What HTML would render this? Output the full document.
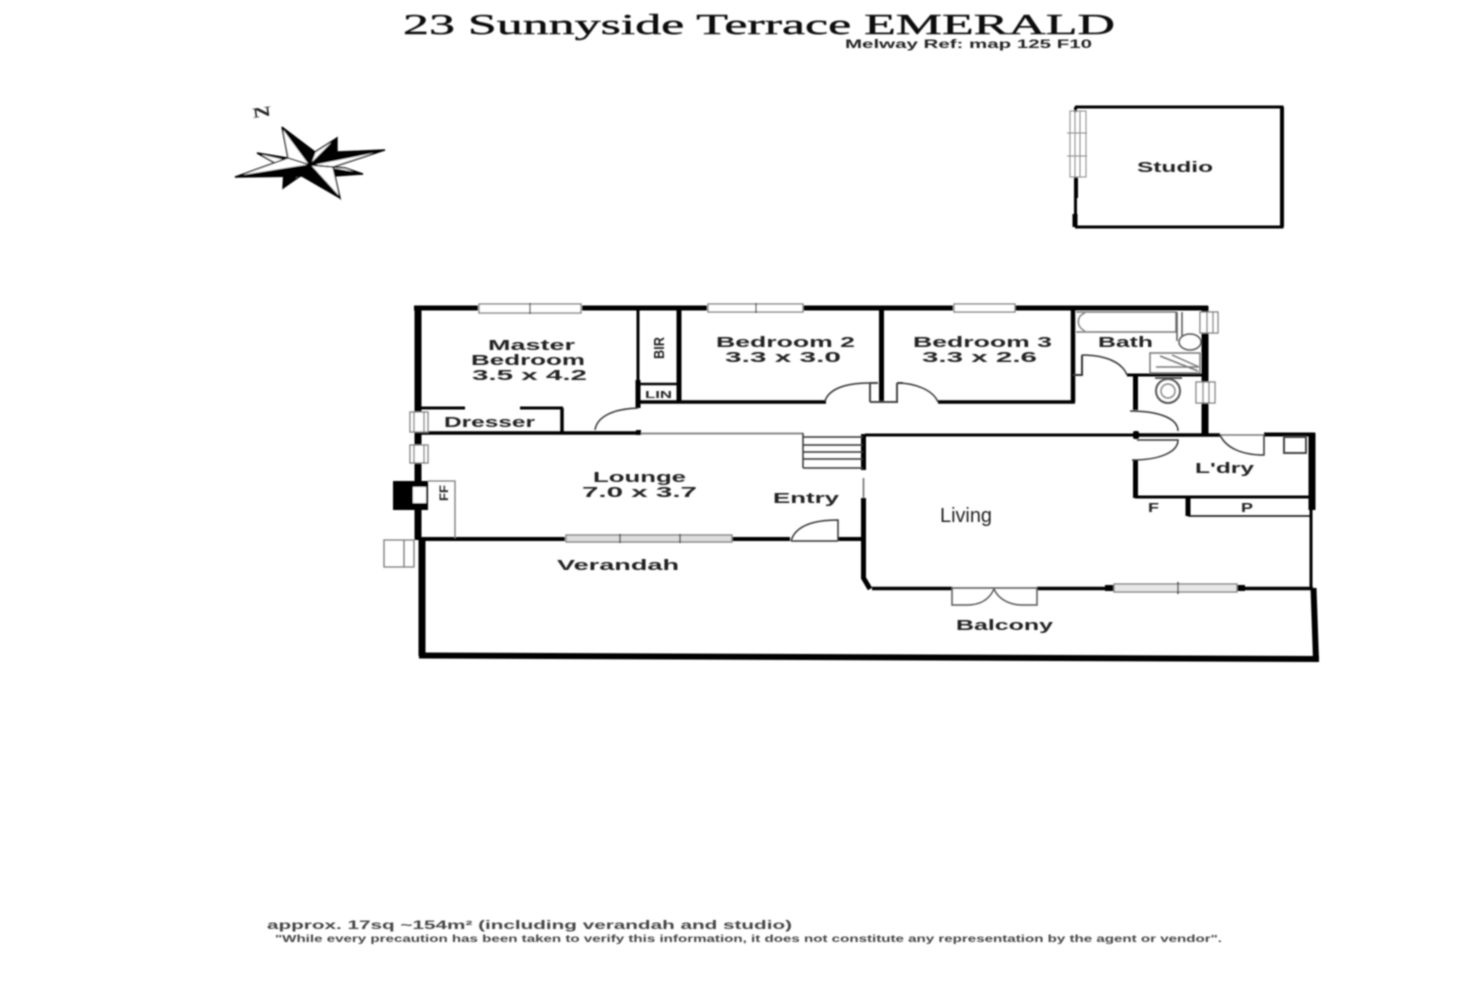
<!DOCTYPE html>
<html><head><meta charset="utf-8"><style>
html,body{margin:0;padding:0;background:#fff}
svg{display:block}
text{font-family:"Liberation Sans",sans-serif;fill:#222;font-size:15px;font-weight:bold}
</style></head><body>
<svg width="1472" height="981" viewBox="0 0 1472 981" xmlns="http://www.w3.org/2000/svg">
<defs><filter id="b" x="-2%" y="-2%" width="104%" height="104%"><feGaussianBlur stdDeviation="0.75"/></filter></defs>
<rect width="1472" height="981" fill="#fff"/>
<g filter="url(#b)">
<!-- title -->
<text x="403" y="34" textLength="712" lengthAdjust="spacingAndGlyphs" style="font-family:'Liberation Serif',serif;font-size:29px;font-weight:normal;fill:#111;stroke:#111;stroke-width:.4">23 Sunnyside Terrace EMERALD</text>
<text x="845" y="48" textLength="247" lengthAdjust="spacingAndGlyphs" style="font-size:12px">Melway Ref: map 125 F10</text>
<text transform="translate(253,118) rotate(-8)" textLength="19" lengthAdjust="spacingAndGlyphs" style="font-size:14px;font-family:'Liberation Serif',serif">N</text>
<!-- compass -->
<g stroke="#000" stroke-width="1.4" stroke-linejoin="miter">
<polygon points="315,152 337,138 310,165" fill="#fff"/>
<polygon points="337,138 337,152 310,165" fill="#000"/>
<polygon points="257,153 288,158 310,165" fill="#000"/>
<polygon points="257,153 275,163 310,165" fill="#fff"/>
<polygon points="363,174 345,168 310,165" fill="#fff"/>
<polygon points="363,174 333,176 310,165" fill="#000"/>
<polygon points="283,188 306,172 310,165" fill="#fff"/>
<polygon points="283,188 284,170 310,165" fill="#000"/>
<polygon points="282,127 288,158 310,165" fill="#fff"/>
<polygon points="282,127 315,152 310,165" fill="#000"/>
<polygon points="385,150 337,152 310,165" fill="#000"/>
<polygon points="385,150 333,167 310,165" fill="#fff"/>
<polygon points="340,198 333,167 310,165" fill="#fff"/>
<polygon points="340,198 302,176 310,165" fill="#000"/>
<polygon points="235,177 288,158 310,165" fill="#fff"/>
<polygon points="235,177 302,176 310,165" fill="#000"/>
</g>
<!-- studio -->
<g fill="none" stroke="#000">
<path d="M1075,107H1282V227H1075" stroke-width="3"/>
<path d="M1282,107V227" stroke-width="4"/>
<path d="M1075.500,107V112M1075.500,177V227" stroke-width="3"/>
<path d="M1076,177V198" stroke-width="4"/>
<path d="M1075,214V227" stroke-width="5"/>
<path d="M1070,111H1086V177H1070ZM1075,111V177M1080,111V177M1067,133H1087M1067,156H1087" stroke="#888" stroke-width="1"/>
</g>
<text x="1137" y="172" textLength="76" lengthAdjust="spacingAndGlyphs">Studio</text>

<!-- thick walls -->
<g fill="none" stroke="#000" stroke-linecap="butt">
<path d="M414,308H478M582,308H707M803,308H953M1015,308H1208" stroke-width="5"/>
<path d="M418,306V412M418,432V445M418,463V540" stroke-width="7"/>
<path d="M422,538V656" stroke-width="7"/>
<path d="M419,655.500L1319,659" stroke-width="6"/>
<path d="M1313.500,588L1316,660" stroke-width="6"/>
<path d="M419,539H565M732,539H790M838,539H865" stroke-width="4"/>
<path d="M418,433H640" stroke-width="3.500"/>
<path d="M640,433.500H803" stroke="#888" stroke-width="2"/>
<path d="M420,408H465M520,408H563" stroke-width="3"/>
<path d="M562,408V433" stroke-width="3.500"/>
<path d="M638,308V380" stroke-width="3"/>
<path d="M638,380V408" stroke-width="5"/>
<path d="M638,384H679" stroke-width="2.500"/>
<path d="M679,308V402" stroke-width="5"/>
<path d="M638,402H826" stroke-width="3.500"/>
<path d="M881.500,308V402" stroke-width="5"/>
<path d="M870,402V383M870,383H878M870,402H897V383M897,383H903" stroke="#444" stroke-width="2"/>
<path d="M938,402H1075" stroke-width="3.500"/>
<path d="M1073,308V402" stroke-width="4.500"/>
<path d="M1073,375H1082V355" stroke="#333" stroke-width="2"/>
<path d="M1127,375H1207" stroke-width="3"/>
<path d="M1135.500,376V410" stroke-width="5"/>
<path d="M1205,306V312M1205,333V382M1205,403V434" stroke-width="7"/>
<path d="M865,435H1135" stroke-width="3"/>
<path d="M1135,435H1220" stroke-width="3.500"/>
<path d="M1220,435H1264" stroke="#777" stroke-width="1.500"/>
<path d="M1264,434.500H1315" stroke-width="4"/>
<path d="M1312,433V510" stroke-width="7"/>
<path d="M1311,510V590" stroke-width="3"/>
<path d="M1135.500,460V498" stroke-width="5"/>
<path d="M1135,497H1312" stroke-width="3"/>
<path d="M1188,497V516" stroke-width="5"/>
<path d="M1188,516H1311" stroke-width="1.500"/>
<path d="M872,588.500H952M1037,588.500H1113M1240,588.500H1313" stroke-width="3.500"/>
<path d="M863.500,434V470M863.500,498V578L870,589" stroke-width="5"/>
<path d="M863.500,478V498" stroke="#666" stroke-width="1.500"/>
</g>
<rect x="1133" y="431" width="6" height="8" fill="#000" rx="2"/>
<rect x="636" y="430" width="5" height="5" fill="#000"/>
<rect x="1105" y="585" width="9" height="6" fill="#000"/>
<rect x="1236" y="585" width="9" height="6" fill="#000"/>

<!-- fireplace -->
<path d="M393,481H428V510H393Z" fill="#000"/>
<rect x="413" y="487" width="13" height="16" fill="#fff"/>
<g fill="none" stroke="#777" stroke-width="1.300">
<path d="M428,481H455V538"/>
<path d="M384,540H414V567H384ZM404,540V567"/>
</g>
<text transform="translate(448,501) rotate(-90)" textLength="16" lengthAdjust="spacingAndGlyphs" style="font-size:12px">FF</text>

<!-- windows -->
<g fill="#fff" stroke="#777" stroke-width="1.300">
<rect x="479" y="304" width="102" height="9"/>
<path d="M530,303V314" fill="none" stroke="#444"/>
<rect x="708" y="304" width="95" height="8"/>
<path d="M756,303V313" fill="none" stroke="#444"/>
<rect x="954" y="304" width="61" height="8"/>
<rect x="566" y="535" width="166" height="7" fill="#ddd"/>
<path d="M620,534V543M680,534V543" fill="none" stroke="#333"/>
<rect x="1114" y="584" width="123" height="8" fill="#e6e6e6"/>
<path d="M1178,582V594" fill="none" stroke="#333"/>
<rect x="410" y="412" width="18" height="20"/>
<path d="M414,412V432M424,412V432" fill="none"/>
<rect x="410" y="445" width="18" height="18"/>
<path d="M414,445V463M424,445V463" fill="none"/>
<rect x="1200" y="312" width="18" height="21"/>
<path d="M1207,312V333M1213,312V333" fill="none"/>
<rect x="1196" y="382" width="19" height="21"/>
<path d="M1203,382V403M1209,382V403" fill="none"/>
</g>
<!-- doors -->
<g fill="none" stroke="#333" stroke-width="1.500">
<path d="M595,430C597,417 612,409 638,408"/>
<path d="M825,401C829,389 845,383 870,383"/>
<path d="M897,383C915,383 933,390 938,402"/>
<path d="M1082,355C1105,355 1122,362 1127,375"/>
<path d="M791,541C795,527 810,520 838,520V540M791,541H838"/>
<path d="M1130,411C1158,411 1178,418 1178,431"/>
<path d="M1137,440H1178C1178,452 1160,460 1132,460"/>
<path d="M1220,435C1226,448 1242,455 1264,455V435"/>
<path d="M952,588H1037M952,588V605H967C982,605 990,598 994,589C998,598 1008,605 1022,605H1037V588" stroke="#555"/>
<path d="M803,433V468M803,437H863M803,445H863M803,452H863M803,459H863M803,468H863" stroke="#333"/>
<path d="M1284,437H1306V453H1284Z" stroke="#444" stroke-width="2"/>
<!-- bath fixtures -->
<path d="M1076,312H1176V332H1076" stroke="#777"/>
<path d="M1085,313C1076,316 1076,327 1085,331" stroke="#888"/>
<path d="M1177,312V341M1182,312V336" stroke="#555"/>
<ellipse cx="1190" cy="342" rx="11" ry="8" stroke="#555"/>
<path d="M1150,353H1200V373H1150ZM1160,356L1198,371M1172,355L1199,367M1156,367H1198" stroke="#777"/>
<path d="M1155,378H1182" stroke="#555" stroke-width="2"/>
<circle cx="1168" cy="391" r="12" stroke="#555" stroke-width="2"/>
<circle cx="1168" cy="391" r="7" stroke="#888"/>
</g>
<!-- labels -->
<text x="488" y="350" textLength="87" lengthAdjust="spacingAndGlyphs">Master</text>
<text x="471" y="365" textLength="114" lengthAdjust="spacingAndGlyphs">Bedroom</text>
<text x="472" y="380" textLength="115" lengthAdjust="spacingAndGlyphs">3.5 x 4.2</text>
<text x="716" y="347" textLength="139" lengthAdjust="spacingAndGlyphs">Bedroom 2</text>
<text x="725" y="362" textLength="116" lengthAdjust="spacingAndGlyphs">3.3 x 3.0</text>
<text x="913" y="347" textLength="139" lengthAdjust="spacingAndGlyphs">Bedroom 3</text>
<text x="922" y="362" textLength="115" lengthAdjust="spacingAndGlyphs">3.3 x 2.6</text>
<text x="1098" y="347" textLength="55" lengthAdjust="spacingAndGlyphs">Bath</text>
<text transform="translate(664,359) rotate(-90)" textLength="22" lengthAdjust="spacingAndGlyphs" style="font-size:15px">BIR</text>
<text x="645" y="398" textLength="27" lengthAdjust="spacingAndGlyphs" style="font-size:10px">LIN</text>
<text x="444" y="427" textLength="91" lengthAdjust="spacingAndGlyphs">Dresser</text>
<text x="593" y="482" textLength="93" lengthAdjust="spacingAndGlyphs">Lounge</text>
<text x="582" y="497" textLength="115" lengthAdjust="spacingAndGlyphs">7.0 x 3.7</text>
<text x="773" y="503" textLength="66" lengthAdjust="spacingAndGlyphs">Entry</text>
<text x="557" y="570" textLength="122" lengthAdjust="spacingAndGlyphs">Verandah</text>
<text x="956" y="630" textLength="97" lengthAdjust="spacingAndGlyphs">Balcony</text>
<text x="1195" y="473" textLength="59" lengthAdjust="spacingAndGlyphs">L'dry</text>
<text x="1148" y="512" textLength="11" lengthAdjust="spacingAndGlyphs" style="font-size:13px">F</text>
<text x="1241" y="512" textLength="12" lengthAdjust="spacingAndGlyphs" style="font-size:13px">P</text>
<text x="940" y="522" textLength="52" lengthAdjust="spacingAndGlyphs" style="font-size:20px;font-weight:normal">Living</text>
<!-- footer -->
<text x="267" y="929" textLength="525" lengthAdjust="spacingAndGlyphs" style="font-size:12px;fill:#444">approx. 17sq ~154m² (including verandah and studio)</text>
<text x="275" y="942" textLength="947" lengthAdjust="spacingAndGlyphs" style="font-size:10px;fill:#444">"While every precaution has been taken to verify this information, it does not constitute any representation by the agent or vendor".</text>
</g>
</svg>
</body></html>
